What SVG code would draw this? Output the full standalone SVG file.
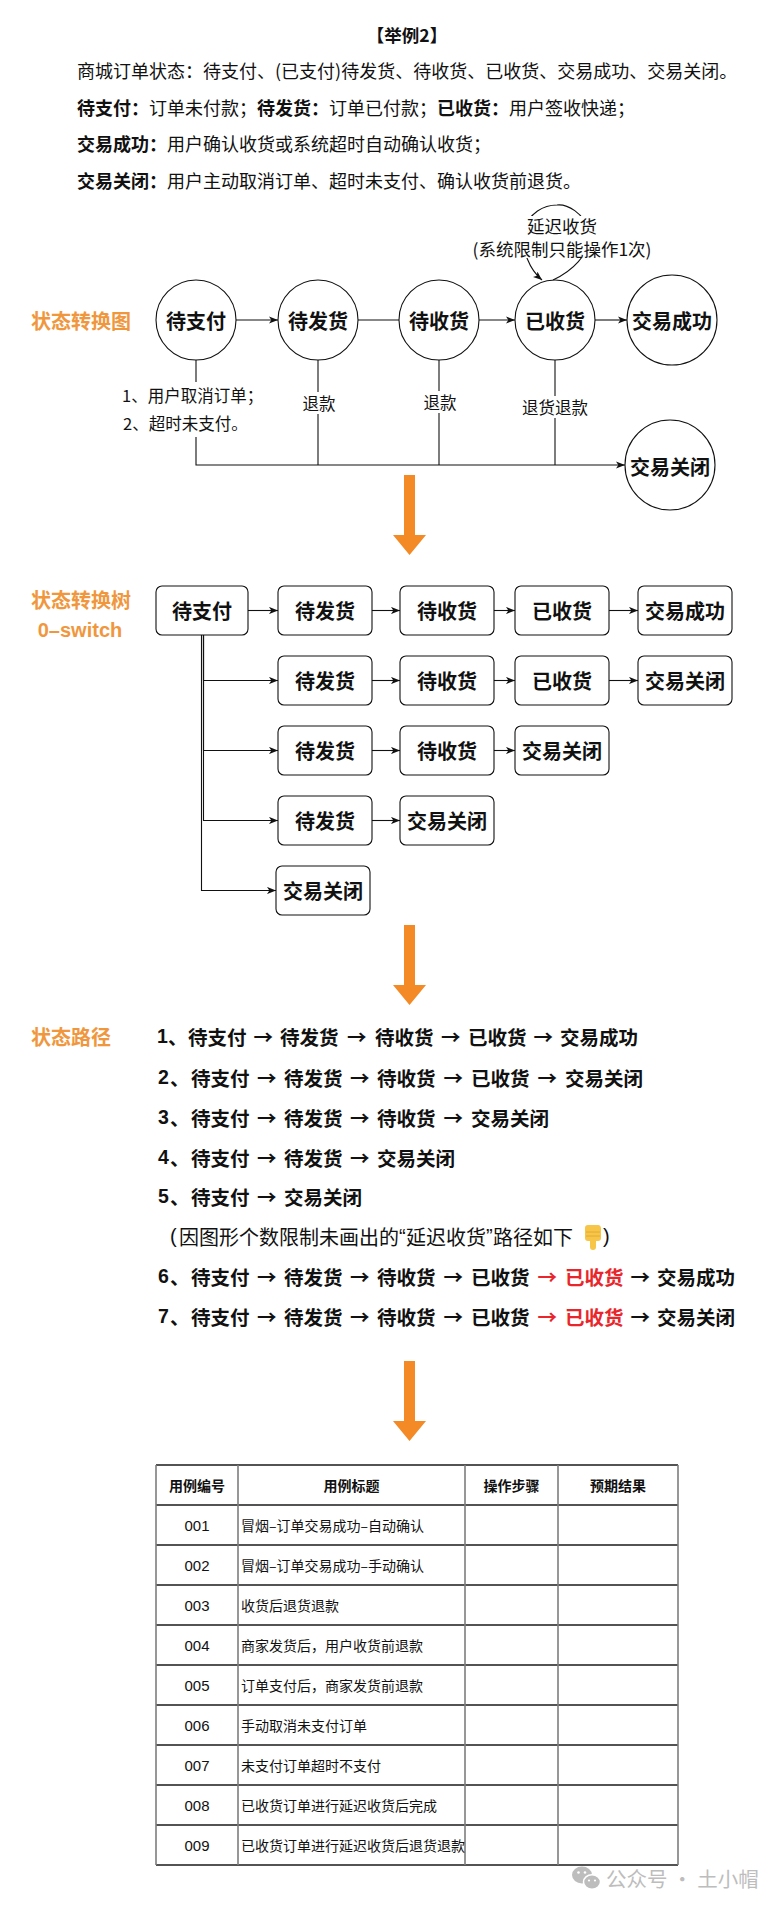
<svg xmlns="http://www.w3.org/2000/svg" width="782" height="1909" viewBox="0 0 782 1909">
<style>
text{font-family:"Noto Sans CJK SC","Noto Sans CJK JP",sans-serif;dominant-baseline:central;fill:#111}
.lat{font-family:"Liberation Sans","Noto Sans CJK SC",sans-serif}
.b{font-weight:bold}
.org{fill:#F0973E;font-weight:bold;font-size:20px}
.node{fill:#fff;stroke:#111;stroke-width:1.1}
.nt{font-size:20px;font-weight:bold;text-anchor:middle}
.edge{fill:none;stroke:#111;stroke-width:1.1}
.lbl{font-size:16.5px}
.bg{fill:#fff}
.path{font-size:19.5px;font-weight:bold}
.red{fill:#E8262B}
.oarr{fill:#F48A25}
.hl{stroke:#1a1a1a;stroke-width:1.3}
.vl{stroke:#7d7d7d;stroke-width:1.6}
.th{font-size:14px;font-weight:bold;text-anchor:middle}
.td{font-size:14px}
.id{font-size:15px;text-anchor:middle;font-family:"Liberation Sans",sans-serif}
.intro{font-size:18px}
</style>
<defs>
<marker id="arr" viewBox="0 0 10 8" refX="10" refY="4" markerWidth="9" markerHeight="7.2" orient="auto" markerUnits="userSpaceOnUse">
<path d="M0,0 L10,4 L0,8 L2.6,4 z" fill="#111"/>
</marker>
<path id="bigarrow" d="M-5.5,0 H5.5 V60 H16.5 L0,80 L-16.5,60 H-5.5 z"/>
</defs>
<rect width="782" height="1909" fill="#fff"/>

<g id="intro">
<text x="407" y="34" class="b" font-size="17.5" text-anchor="middle">【举例2】</text>
<text x="77" y="70" class="intro">商城订单状态：待支付、(已支付)待发货、待收货、已收货、交易成功、交易关闭。</text>
<text x="77" y="107" class="intro"><tspan class="b">待支付：</tspan>订单未付款；<tspan class="b">待发货：</tspan>订单已付款；<tspan class="b">已收货：</tspan>用户签收快递；</text>
<text x="77" y="143" class="intro"><tspan class="b">交易成功：</tspan>用户确认收货或系统超时自动确认收货；</text>
<text x="77" y="180" class="intro"><tspan class="b">交易关闭：</tspan>用户主动取消订单、超时未支付、确认收货前退货。</text>
</g>

<g id="section-labels">
<text x="31" y="320" class="org">状态转换图</text>
<text x="31" y="599" class="org">状态转换树</text>
<text x="80" y="630" class="org lat" text-anchor="middle">0–switch</text>
<text x="31" y="1036" class="org">状态路径</text>
</g>

<g id="state-connectors">
<line x1="236" y1="320" x2="278" y2="320" class="edge" marker-end="url(#arr)"/>
<line x1="358" y1="320" x2="399" y2="320" class="edge"/>
<line x1="479" y1="320" x2="515" y2="320" class="edge" marker-end="url(#arr)"/>
<line x1="595" y1="320" x2="627" y2="320" class="edge" marker-end="url(#arr)"/>
<path d="M196,360 V465 H625" class="edge" marker-end="url(#arr)"/>
<line x1="318" y1="360" x2="318" y2="465" class="edge"/>
<line x1="439" y1="360" x2="439" y2="465" class="edge"/>
<line x1="555" y1="360" x2="555" y2="465" class="edge"/>
<path d="M553,280 C570,272 592,255 588,232 C585,212 566,204 557,205 C545,205 528,212 524,232 C521,250 530,270 542,280" class="edge" marker-end="url(#arr)"/>
<rect x="468" y="216" width="188" height="42" class="bg"/>
<text x="562" y="225" font-size="17.5" text-anchor="middle">延迟收货</text>
<text x="562" y="248" font-size="17.5" text-anchor="middle">(系统限制只能操作1次)</text>
<rect x="118" y="382" width="150" height="55" class="bg"/>
<text x="122" y="395" class="lbl">1、用户取消订单；</text>
<text x="123" y="423" class="lbl">2、超时未支付。</text>
<rect x="300" y="392" width="38" height="22" class="bg"/>
<text x="319" y="403" class="lbl" text-anchor="middle">退款</text>
<rect x="421" y="391" width="38" height="22" class="bg"/>
<text x="440" y="402" class="lbl" text-anchor="middle">退款</text>
<rect x="518" y="396" width="74" height="22" class="bg"/>
<text x="555" y="407" class="lbl" text-anchor="middle">退货退款</text>
</g>

<g id="s-daizhifu"><circle cx="196" cy="320" r="40" class="node"/><text x="196" y="320" class="nt">待支付</text></g>
<g id="s-daifahuo"><circle cx="318" cy="320" r="40" class="node"/><text x="318" y="320" class="nt">待发货</text></g>
<g id="s-daishouhuo"><circle cx="439" cy="320" r="40" class="node"/><text x="439" y="320" class="nt">待收货</text></g>
<g id="s-yishouhuo"><circle cx="555" cy="320" r="40" class="node"/><text x="555" y="320" class="nt">已收货</text></g>
<g id="s-chenggong"><circle cx="672" cy="320" r="45" class="node"/><text x="672" y="320" class="nt">交易成功</text></g>
<g id="s-guanbi"><circle cx="670" cy="465" r="45" class="node"/><text x="670" y="466" class="nt">交易关闭</text></g>

<g id="orange-arrows" class="oarr">
<use href="#bigarrow" x="409.5" y="475"/>
<use href="#bigarrow" x="409.5" y="925"/>
<use href="#bigarrow" x="409.5" y="1361"/>
</g>

<g id="tree-connectors">
<line x1="248" y1="610.5" x2="278" y2="610.5" class="edge" marker-end="url(#arr)"/>
<line x1="372" y1="610.5" x2="400" y2="610.5" class="edge" marker-end="url(#arr)"/>
<line x1="494" y1="610.5" x2="515" y2="610.5" class="edge" marker-end="url(#arr)"/>
<line x1="609" y1="610.5" x2="638" y2="610.5" class="edge" marker-end="url(#arr)"/>
<path d="M203.5,635 V680.5 H278" class="edge" marker-end="url(#arr)"/>
<path d="M203.5,635 V750.5 H278" class="edge" marker-end="url(#arr)"/>
<path d="M203.5,635 V820.5 H278" class="edge" marker-end="url(#arr)"/>
<path d="M201.5,635 V890.5 H276" class="edge" marker-end="url(#arr)"/>
<line x1="372" y1="680.5" x2="400" y2="680.5" class="edge" marker-end="url(#arr)"/>
<line x1="494" y1="680.5" x2="515" y2="680.5" class="edge" marker-end="url(#arr)"/>
<line x1="609" y1="680.5" x2="638" y2="680.5" class="edge" marker-end="url(#arr)"/>
<line x1="372" y1="750.5" x2="400" y2="750.5" class="edge" marker-end="url(#arr)"/>
<line x1="494" y1="750.5" x2="515" y2="750.5" class="edge" marker-end="url(#arr)"/>
<line x1="372" y1="820.5" x2="400" y2="820.5" class="edge" marker-end="url(#arr)"/>
</g>

<g id="t-root"><rect x="156" y="586" width="92" height="49" rx="6" class="node"/><text x="202" y="610.5" class="nt">待支付</text></g>
<g id="t-r1-1"><rect x="278" y="586" width="94" height="49" rx="6" class="node"/><text x="325" y="610.5" class="nt">待发货</text></g>
<g id="t-r1-2"><rect x="400" y="586" width="94" height="49" rx="6" class="node"/><text x="447" y="610.5" class="nt">待收货</text></g>
<g id="t-r1-3"><rect x="515" y="586" width="94" height="49" rx="6" class="node"/><text x="562" y="610.5" class="nt">已收货</text></g>
<g id="t-r1-4"><rect x="638" y="586" width="94" height="49" rx="6" class="node"/><text x="685" y="610.5" class="nt">交易成功</text></g>
<g id="t-r2-1"><rect x="278" y="656" width="94" height="49" rx="6" class="node"/><text x="325" y="680.5" class="nt">待发货</text></g>
<g id="t-r2-2"><rect x="400" y="656" width="94" height="49" rx="6" class="node"/><text x="447" y="680.5" class="nt">待收货</text></g>
<g id="t-r2-3"><rect x="515" y="656" width="94" height="49" rx="6" class="node"/><text x="562" y="680.5" class="nt">已收货</text></g>
<g id="t-r2-4"><rect x="638" y="656" width="94" height="49" rx="6" class="node"/><text x="685" y="680.5" class="nt">交易关闭</text></g>
<g id="t-r3-1"><rect x="278" y="726" width="94" height="49" rx="6" class="node"/><text x="325" y="750.5" class="nt">待发货</text></g>
<g id="t-r3-2"><rect x="400" y="726" width="94" height="49" rx="6" class="node"/><text x="447" y="750.5" class="nt">待收货</text></g>
<g id="t-r3-3"><rect x="515" y="726" width="94" height="49" rx="6" class="node"/><text x="562" y="750.5" class="nt">交易关闭</text></g>
<g id="t-r4-1"><rect x="278" y="796" width="94" height="49" rx="6" class="node"/><text x="325" y="820.5" class="nt">待发货</text></g>
<g id="t-r4-2"><rect x="400" y="796" width="94" height="49" rx="6" class="node"/><text x="447" y="820.5" class="nt">交易关闭</text></g>
<g id="t-r5-1"><rect x="276" y="866" width="94" height="49" rx="6" class="node"/><text x="323" y="890.5" class="nt">交易关闭</text></g>

<g id="paths" class="path">
<text y="1036"><tspan x="157" class="lat">1</tspan><tspan x="168">、</tspan><tspan x="188">待支付</tspan><tspan x="253.5">→</tspan><tspan x="280">待发货</tspan><tspan x="347">→</tspan><tspan x="375">待收货</tspan><tspan x="441">→</tspan><tspan x="468">已收货</tspan><tspan x="533.5">→</tspan><tspan x="560">交易成功</tspan></text>
<text y="1077"><tspan x="158" class="lat">2</tspan><tspan x="170">、</tspan><tspan x="191">待支付</tspan><tspan x="257">→</tspan><tspan x="284">待发货</tspan><tspan x="350">→</tspan><tspan x="377">待收货</tspan><tspan x="443.5">→</tspan><tspan x="471">已收货</tspan><tspan x="537.5">→</tspan><tspan x="565">交易关闭</tspan></text>
<text y="1117"><tspan x="158" class="lat">3</tspan><tspan x="170">、</tspan><tspan x="191">待支付</tspan><tspan x="257">→</tspan><tspan x="284">待发货</tspan><tspan x="350">→</tspan><tspan x="377">待收货</tspan><tspan x="443.5">→</tspan><tspan x="471">交易关闭</tspan></text>
<text y="1157"><tspan x="158" class="lat">4</tspan><tspan x="170">、</tspan><tspan x="191">待支付</tspan><tspan x="257">→</tspan><tspan x="284">待发货</tspan><tspan x="350">→</tspan><tspan x="377">交易关闭</tspan></text>
<text y="1196"><tspan x="158" class="lat">5</tspan><tspan x="170">、</tspan><tspan x="191">待支付</tspan><tspan x="257">→</tspan><tspan x="284">交易关闭</tspan></text>
<text y="1276"><tspan x="158" class="lat">6</tspan><tspan x="170">、</tspan><tspan x="191">待支付</tspan><tspan x="257">→</tspan><tspan x="284">待发货</tspan><tspan x="350">→</tspan><tspan x="377">待收货</tspan><tspan x="443.5">→</tspan><tspan x="471">已收货</tspan><tspan x="537.5" class="red">→</tspan><tspan x="565" class="red">已收货</tspan><tspan x="630.5">→</tspan><tspan x="657">交易成功</tspan></text>
<text y="1316"><tspan x="158" class="lat">7</tspan><tspan x="170">、</tspan><tspan x="191">待支付</tspan><tspan x="257">→</tspan><tspan x="284">待发货</tspan><tspan x="350">→</tspan><tspan x="377">待收货</tspan><tspan x="443.5">→</tspan><tspan x="471">已收货</tspan><tspan x="537.5" class="red">→</tspan><tspan x="565" class="red">已收货</tspan><tspan x="630.5">→</tspan><tspan x="657">交易关闭</tspan></text>
</g>

<g id="note">
<text y="1236" font-size="20"><tspan x="170" class="lat">(</tspan><tspan x="179">因图形个数限制未画出的</tspan><tspan x="399" class="lat">“</tspan><tspan x="406">延迟收货</tspan><tspan x="486" class="lat">”</tspan><tspan x="493">路径如下</tspan><tspan x="603" class="lat">)</tspan></text>
<g id="emoji-hand">
<path d="M585,1228 Q585,1225 588,1225 L598,1225 Q601,1225 601,1229 L601,1238 Q601,1241 598,1241 L596,1241 L596,1247 Q596,1250 593,1250 Q590,1250 590,1247 L590,1241 L588,1241 Q585,1241 585,1238 z" fill="#F7C548"/>
<path d="M586,1232 H600 M586,1236 H600" stroke="#E0A22E" stroke-width="0.8"/>
</g>
</g>

<g id="table">
<line x1="156" y1="1465" x2="678" y2="1465" class="hl"/>
<line x1="156" y1="1505" x2="678" y2="1505" class="hl"/>
<line x1="156" y1="1545" x2="678" y2="1545" class="hl"/>
<line x1="156" y1="1585" x2="678" y2="1585" class="hl"/>
<line x1="156" y1="1625" x2="678" y2="1625" class="hl"/>
<line x1="156" y1="1665" x2="678" y2="1665" class="hl"/>
<line x1="156" y1="1705" x2="678" y2="1705" class="hl"/>
<line x1="156" y1="1745" x2="678" y2="1745" class="hl"/>
<line x1="156" y1="1785" x2="678" y2="1785" class="hl"/>
<line x1="156" y1="1825" x2="678" y2="1825" class="hl"/>
<line x1="156" y1="1865" x2="678" y2="1865" class="hl"/>
<line x1="156" y1="1465" x2="156" y2="1865" class="vl"/>
<line x1="238" y1="1465" x2="238" y2="1865" class="vl"/>
<line x1="465" y1="1465" x2="465" y2="1865" class="vl"/>
<line x1="558" y1="1465" x2="558" y2="1865" class="vl"/>
<line x1="678" y1="1465" x2="678" y2="1865" class="vl"/>
<text x="197" y="1485" class="th">用例编号</text>
<text x="351.5" y="1485" class="th">用例标题</text>
<text x="511.5" y="1485" class="th">操作步骤</text>
<text x="618" y="1485" class="th">预期结果</text>
<text x="197" y="1525" class="id">001</text><text x="241" y="1525" class="td">冒烟–订单交易成功–自动确认</text>
<text x="197" y="1565" class="id">002</text><text x="241" y="1565" class="td">冒烟–订单交易成功–手动确认</text>
<text x="197" y="1605" class="id">003</text><text x="241" y="1605" class="td">收货后退货退款</text>
<text x="197" y="1645" class="id">004</text><text x="241" y="1645" class="td">商家发货后，用户收货前退款</text>
<text x="197" y="1685" class="id">005</text><text x="241" y="1685" class="td">订单支付后，商家发货前退款</text>
<text x="197" y="1725" class="id">006</text><text x="241" y="1725" class="td">手动取消未支付订单</text>
<text x="197" y="1765" class="id">007</text><text x="241" y="1765" class="td">未支付订单超时不支付</text>
<text x="197" y="1805" class="id">008</text><text x="241" y="1805" class="td">已收货订单进行延迟收货后完成</text>
<text x="197" y="1845" class="id">009</text><text x="241" y="1845" class="td">已收货订单进行延迟收货后退货退款</text>
</g>

<g id="watermark">
<ellipse cx="582" cy="1875" rx="10" ry="8.5" fill="#bdbdbd"/>
<ellipse cx="592" cy="1882" rx="8.5" ry="7.2" fill="#bdbdbd" stroke="#fff" stroke-width="1.5"/>
<circle cx="578.5" cy="1872.5" r="1.3" fill="#fff"/><circle cx="585" cy="1872.5" r="1.3" fill="#fff"/>
<circle cx="589" cy="1880.5" r="1.1" fill="#fff"/><circle cx="595" cy="1880.5" r="1.1" fill="#fff"/>
<text x="606" y="1878" font-size="20.5" style="fill:#bdbdbd">公众号 · 土小帽</text>
</g>
</svg>
